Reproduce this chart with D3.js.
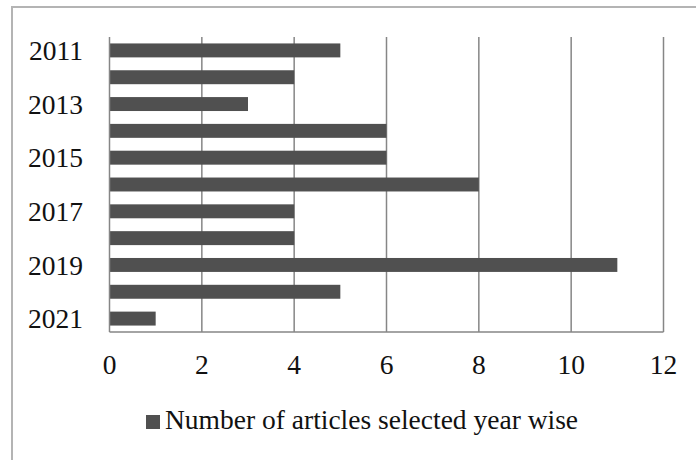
<!DOCTYPE html>
<html>
<head>
<meta charset="utf-8">
<script src="https://cdn.jsdelivr.net/npm/d3@7"></script>
<style>
  html, body { margin: 0; padding: 0; background: #fff; }
  svg { display: block; }
</style>
</head>
<body>
<svg id="chart" width="696" height="460"></svg>
<script>
// Articles selected per year
const years = ["2011","2012","2013","2014","2015","2016","2017","2018","2019","2020","2021"];
const counts = [5, 4, 3, 6, 6, 8, 4, 4, 11, 5, 1];
const yearLabels = ["2011","2013","2015","2017","2019","2021"];
const xTicks = [0, 2, 4, 6, 8, 10, 12];
const seriesName = "Number of articles selected year wise";

const svg = d3.select("#chart");
const font = "'Liberation Serif', 'Times New Roman', serif";
const fontSize = 27.5;
const barColor = "#505050";
const gridColor = "#868686";

// Chart frame (runs past the right and bottom edges)
svg.append("rect")
  .attr("x", 12).attr("y", 7)
  .attr("width", 720).attr("height", 480)
  .attr("fill", "none")
  .attr("stroke", "#b4b4b4")
  .attr("stroke-width", 2);

const plot = { left: 109.5, right: 663.5, top: 37, bottom: 332 };

const x = d3.scaleLinear().domain([0, 12]).range([plot.left, plot.right]);
const y = d3.scaleBand().domain(years).range([plot.top, plot.bottom]).paddingInner(0.48).paddingOuter(0.24);

// Vertical gridlines
svg.append("g").selectAll("line")
  .data(xTicks.filter(d => d > 0))
  .join("line")
  .attr("x1", d => x(d)).attr("x2", d => x(d))
  .attr("y1", plot.top).attr("y2", plot.bottom)
  .attr("stroke", gridColor).attr("stroke-width", 1.5);

// Bars
svg.append("g").selectAll("rect")
  .data(years.map((yr, i) => ({ yr, v: counts[i] })))
  .join("rect")
  .attr("x", x(0))
  .attr("y", d => y(d.yr))
  .attr("width", d => x(d.v) - x(0))
  .attr("height", y.bandwidth())
  .attr("fill", barColor);

// Axis lines
svg.append("line")
  .attr("x1", x(0)).attr("x2", x(0))
  .attr("y1", plot.top).attr("y2", plot.bottom)
  .attr("stroke", gridColor).attr("stroke-width", 1.5);
svg.append("line")
  .attr("x1", x(0)).attr("x2", x(12))
  .attr("y1", plot.bottom).attr("y2", plot.bottom)
  .attr("stroke", gridColor).attr("stroke-width", 1.5);

// Year labels
svg.append("g").selectAll("text")
  .data(yearLabels)
  .join("text")
  .attr("x", 83)
  .attr("y", d => y(d) + y.bandwidth() / 2)
  .attr("dy", "0.35em")
  .attr("text-anchor", "end")
  .attr("font-family", font)
  .attr("font-size", fontSize)
  .attr("fill", "#111")
  .text(d => d);

// Value tick labels
svg.append("g").selectAll("text")
  .data(xTicks)
  .join("text")
  .attr("x", d => x(d))
  .attr("y", 374)
  .attr("text-anchor", "middle")
  .attr("font-family", font)
  .attr("font-size", fontSize)
  .attr("fill", "#111")
  .text(d => d);

// Legend
const legend = svg.append("g");
legend.append("rect")
  .attr("x", 146).attr("y", 415)
  .attr("width", 14).attr("height", 14)
  .attr("fill", barColor);
legend.append("text")
  .attr("x", 165).attr("y", 429)
  .attr("font-family", font)
  .attr("font-size", fontSize)
  .attr("fill", "#111")
  .text(seriesName);
</script>
</body>
</html>
